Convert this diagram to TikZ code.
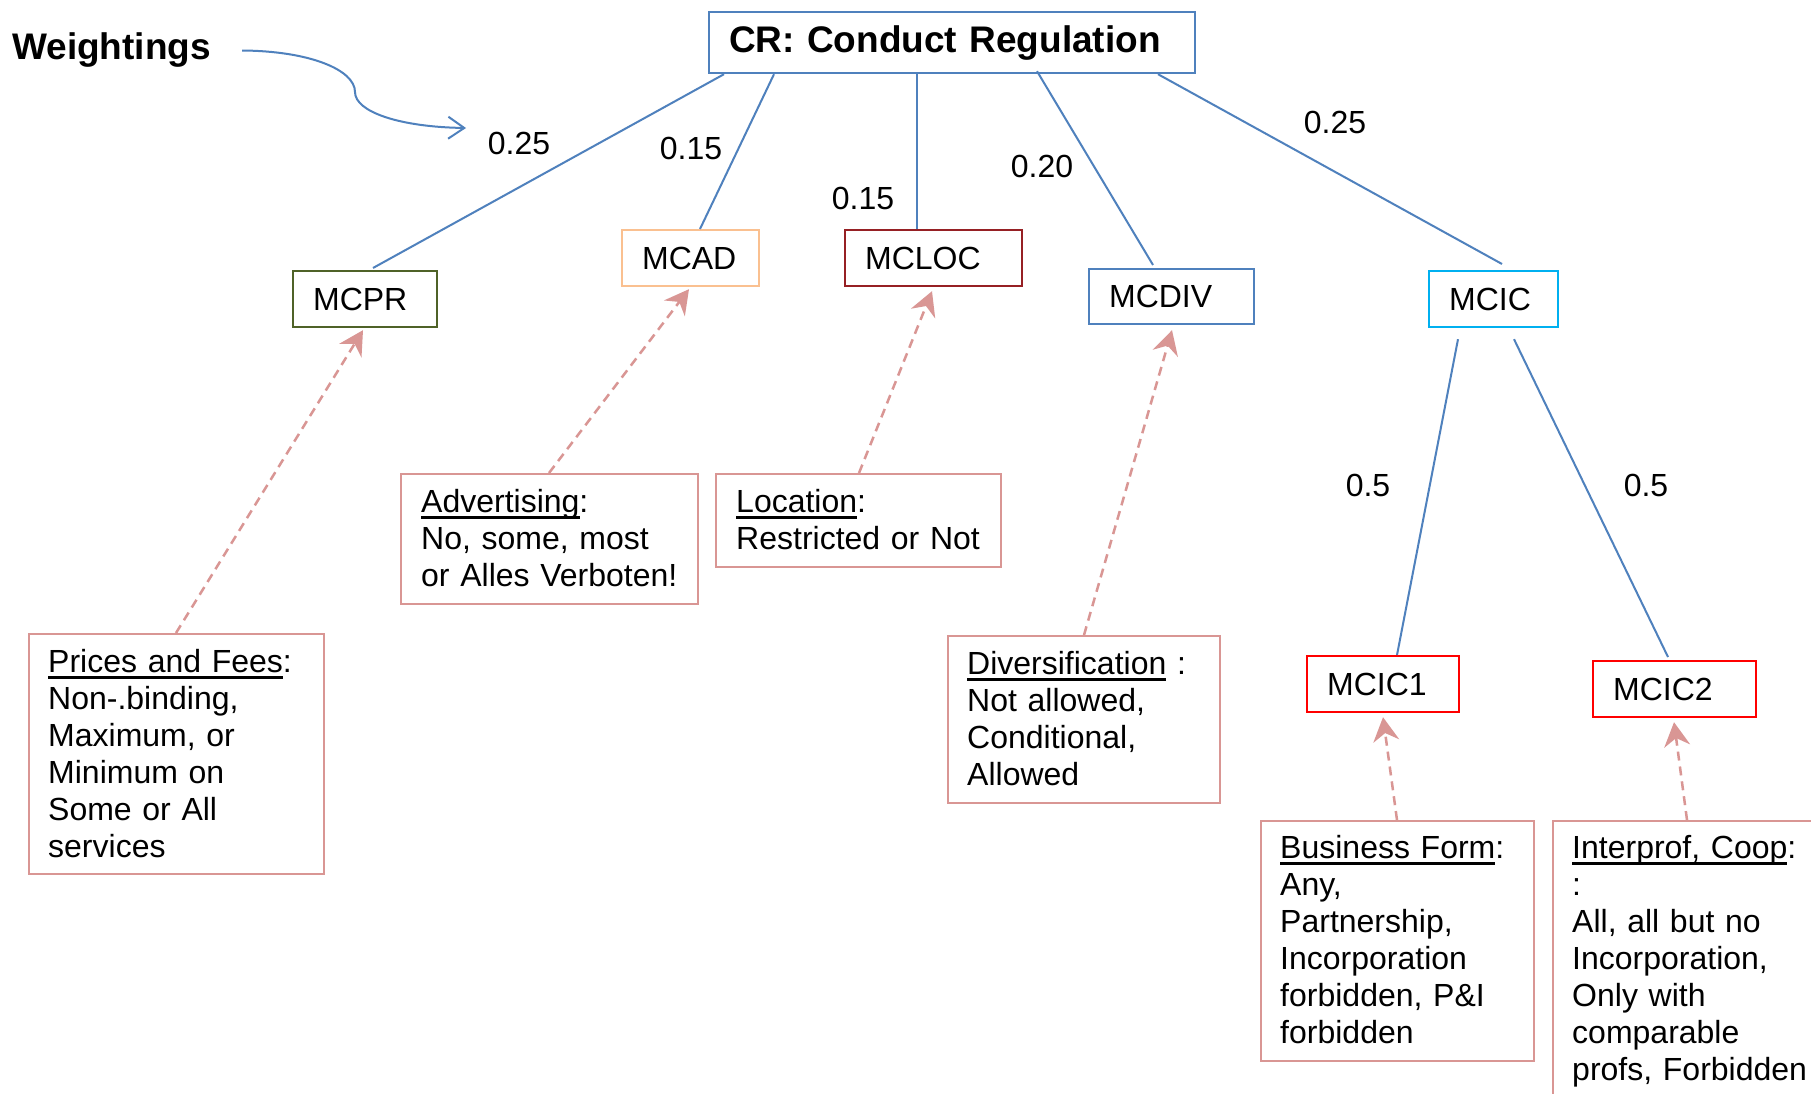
\documentclass[tikz,border=0pt]{standalone}
\usepackage{fontspec}
\setmainfont{Liberation Sans}
\usetikzlibrary{arrows.meta}
\definecolor{lblue}{HTML}{4F81BD}
\definecolor{pinkc}{HTML}{D99694}
\definecolor{olivec}{HTML}{4F6228}
\definecolor{orangec}{HTML}{FAC090}
\definecolor{dredc}{HTML}{962024}
\definecolor{cyanc}{HTML}{00B0F0}
\definecolor{redc}{HTML}{FF0000}
\newcommand\fs{\fontsize{32}{37}\selectfont}
\newcommand\fbig{\fontsize{37}{44}\selectfont\bfseries}
\newcommand\myul[1]{\setbox0\hbox{#1}\rlap{\vrule height -4.3pt depth 7pt width \wd0}\box0\relax}
\begin{document}
\begin{tikzpicture}[x=1pt,y=-1pt,
 mbox/.style={draw, line width=2.2pt, rectangle, inner xsep=20pt, inner ysep=0pt, minimum height=56pt, align=left, anchor=north west, font=\fs},
 dbox/.style={draw=pinkc, line width=2pt, rectangle, inner sep=0pt, anchor=north west},
 dtext/.style={anchor=base west, inner sep=0pt, text width=320pt, align=left, font=\fs},
 wline/.style={draw=lblue, line width=2pt},
 darrow/.style={draw=pinkc, line width=2.5pt, dash pattern=on 9pt off 6pt, -{Stealth[length=24pt,width=26pt,inset=8pt]}},
 wlab/.style={font=\fs, inner sep=0pt}]
\fill[white] (0,0) rectangle (1811,1094);
\useasboundingbox (0,0) rectangle (1811,1094);

% main nodes
\node[mbox, draw=lblue, font=\fbig, text width=446pt, minimum height=61pt] (cr) at (708,11) {CR: Conduct Regulation};
\node[mbox, draw=olivec, text width=104pt] (mcpr) at (292,270) {MCPR};
\node[mbox, draw=orangec, text width=97pt] (mcad) at (621,229) {MCAD};
\node[mbox, draw=dredc, text width=137pt] (mcloc) at (844,229) {MCLOC};
\node[mbox, draw=lblue, text width=125pt, minimum height=55pt] (mcdiv) at (1088,268) {MCDIV};
\node[mbox, draw=cyanc, text width=89pt] (mcic) at (1428,270) {MCIC};
\node[mbox, draw=redc, text width=112pt] (mcic1) at (1306,655) {MCIC1};
\node[mbox, draw=redc, text width=123pt] (mcic2) at (1592,660) {MCIC2};

% description boxes
\node[dbox, minimum width=295pt, minimum height=240pt] (prices) at (28,633) {};
\node[dtext] (tprices) at (48,672) {\myul{Prices and Fees}:\\Non-.binding,\\Maximum, or\\Minimum on\\Some or All\\services};
\node[dbox, minimum width=297pt, minimum height=130pt] (adv) at (400,473) {};
\node[dtext] (tadv) at (421,512) {\myul{Advertising}:\\No, some, most\\or Alles Verboten!};
\node[dbox, minimum width=285pt, minimum height=93pt] (loc) at (715,473) {};
\node[dtext] (tloc) at (736,512) {\myul{Location}:\\Restricted or Not};
\node[dbox, minimum width=272pt, minimum height=167pt] (div) at (947,635) {};
\node[dtext] (tdiv) at (967,674) {\myul{Diversification} :\\Not allowed,\\Conditional,\\Allowed};
\node[dbox, minimum width=273pt, minimum height=240pt] (bus) at (1260,820) {};
\node[dtext] (tbus) at (1280,858) {\myul{Business Form}:\\Any,\\Partnership,\\Incorporation\\forbidden, P\&I\\forbidden};
\node[dbox, minimum width=300pt, minimum height=320pt] (int) at (1552,820) {};
\node[dtext] (tint) at (1572,858) {\myul{Interprof, Coop}:\\:\\All, all but no\\Incorporation,\\Only with\\comparable\\profs, Forbidden};

% weights
\node[wlab] (w1) at (519,143) {0.25};
\node[wlab] (w2) at (691,148) {0.15};
\node[wlab] (w3) at (863,198) {0.15};
\node[wlab] (w4) at (1042,166) {0.20};
\node[wlab] (w5) at (1335,122) {0.25};
\node[wlab] (w6) at (1368,485) {0.5};
\node[wlab] (w7) at (1646,485) {0.5};

% Weightings
\node[font=\fbig, inner sep=0pt, anchor=base west] (wt) at (12,60) {Weightings};
\coordinate (wend) at (466,128);
\draw[lblue, line width=2pt, -{Straight Barb[length=16pt,width=22pt]}] ([xshift=31pt]wt.east) .. controls (310,51) and (355,70) .. (355,92) .. controls (355,112) and (400,127) .. (wend);

% tree lines
\coordinate (locTop) at ([xshift=73pt]mcloc.north west);
\draw[wline] ([xshift=16pt]cr.south west) -- ([xshift=81pt,yshift=2pt]mcpr.north west);
\draw[wline] ([xshift=66pt]cr.south west) -- ([xshift=79pt]mcad.north west);
\draw[wline] (locTop |- cr.south) -- (locTop);
\draw[wline] ([xshift=329pt,yshift=3pt]cr.south west) -- ([xshift=65pt,yshift=3pt]mcdiv.north west);
\draw[wline] ([xshift=450pt]cr.south west) -- ([xshift=74pt,yshift=6pt]mcic.north west);
\draw[wline] ([xshift=30pt,yshift=-11pt]mcic.south west) -- ([xshift=91pt]mcic1.north west);
\draw[wline] ([xshift=86pt,yshift=-11pt]mcic.south west) -- ([xshift=76pt,yshift=3pt]mcic2.north west);

% dashed arrows
\draw[darrow] ([xshift=148pt]prices.north west) -- ([xshift=71pt,yshift=-2pt]mcpr.south west);
\draw[darrow] ([xshift=149pt]adv.north west) -- ([xshift=68pt,yshift=-2pt]mcad.south west);
\draw[darrow] ([xshift=144pt]loc.north west) -- ([xshift=88pt,yshift=-4pt]mcloc.south west);
\draw[darrow] ([xshift=137pt]div.north west) -- ([xshift=84pt,yshift=-5pt]mcdiv.south west);
\draw[darrow] ([xshift=137pt]bus.north west) -- ([xshift=77pt,yshift=-4pt]mcic1.south west);
\draw[darrow] ([xshift=135pt]int.north west) -- ([xshift=82pt,yshift=-4pt]mcic2.south west);
\end{tikzpicture}
\end{document}
